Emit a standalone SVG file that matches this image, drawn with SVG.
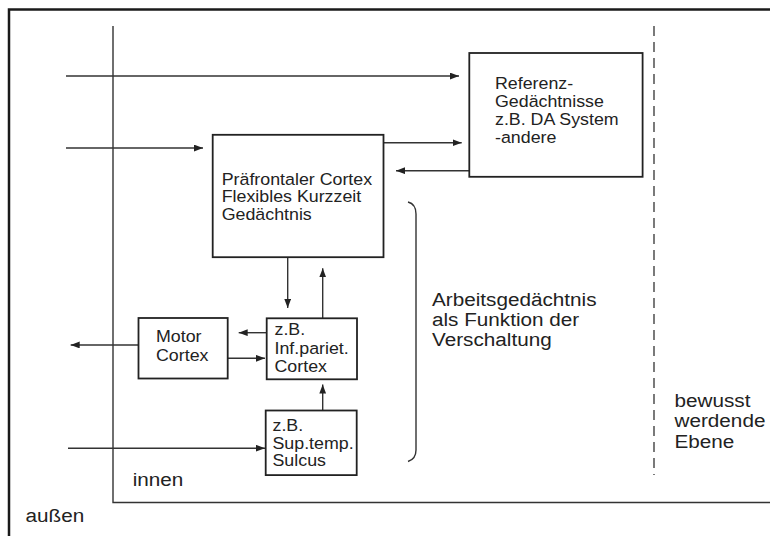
<svg xmlns="http://www.w3.org/2000/svg" width="770" height="536" viewBox="0 0 770 536">
<style>
  .box { fill: none; stroke: #222; stroke-width: 1.8; }
  .ln { fill: none; stroke: #333; stroke-width: 1.4; }
  .conn { fill: none; stroke: #333; stroke-width: 1.4; marker-end: url(#ah); }
  .t { font-family: "Liberation Sans", Arial, sans-serif; font-size: 16.5px; fill: #222; }
  .tl { font-family: "Liberation Sans", Arial, sans-serif; font-size: 19px; fill: #222; }
</style>
<defs>
  <marker id="ah" markerUnits="userSpaceOnUse" markerWidth="10" markerHeight="8" refX="9" refY="3.4" orient="auto">
    <path d="M0,0 L9,3.4 L0,6.8 z" fill="#222"/>
  </marker>
</defs>
<rect x="0" y="0" width="770" height="536" fill="#fff"/>
<path d="M9,536 L9,9.5 L770,9.5" fill="none" stroke="#1a1a1a" stroke-width="2.5"/>

<g id="boundaries">
  <path class="ln" d="M113,26 L113,502.5 L770,502.5"/>
  <line x1="654" y1="26" x2="654" y2="475" stroke="#333" stroke-width="1.3" stroke-dasharray="10,6"/>
  <path id="brace" class="ln" d="M408,202 Q416,204 416,214 L416,450 Q416,459 408,461.5"/>
</g>

<g id="connectors">
  <line class="conn" x1="66" y1="76" x2="459" y2="76"/>
  <line class="conn" x1="66" y1="148" x2="203" y2="148"/>
  <line class="conn" x1="383.5" y1="142.7" x2="461.7" y2="142.7"/>
  <line class="conn" x1="469.3" y1="170.7" x2="396" y2="170.7" stroke-width="2"/>
  <line class="conn" x1="287.7" y1="257.3" x2="287.7" y2="308"/>
  <line class="conn" x1="322.7" y1="318.3" x2="322.7" y2="268.3"/>
  <line class="conn" x1="266.7" y1="332.7" x2="238.7" y2="332.7"/>
  <line class="conn" x1="227.7" y1="358.3" x2="265" y2="358.3"/>
  <line class="conn" x1="138.5" y1="345" x2="70.7" y2="345"/>
  <line class="conn" x1="322.7" y1="410.5" x2="322.7" y2="384.5"/>
  <line class="conn" x1="68" y1="448.2" x2="265" y2="448.2"/>
</g>

<g id="referenz">
  <rect class="box" x="469.3" y="53" width="173.3" height="123.8"/>
  <text class="t" transform="translate(495,89.4) scale(1.08,1)"><tspan x="0">Referenz-</tspan><tspan x="0" dy="17.8">Gedächtnisse</tspan><tspan x="0" dy="17.8">z.B. DA System</tspan><tspan x="0" dy="17.8">-andere</tspan></text>
</g>

<g id="pfc">
  <rect class="box" x="212.7" y="134.8" width="170.8" height="122.4"/>
  <text class="t" transform="translate(221.7,184.8) scale(1.08,1)"><tspan x="0">Präfrontaler Cortex</tspan><tspan x="0" dy="17.6">Flexibles Kurzzeit</tspan><tspan x="0" dy="17.6">Gedächtnis</tspan></text>
</g>

<g id="motor">
  <rect class="box" x="138.5" y="318" width="89.2" height="60.5"/>
  <text class="t" transform="translate(156,342) scale(1.08,1)"><tspan x="0">Motor</tspan><tspan x="0" dy="18.6">Cortex</tspan></text>
</g>

<g id="ipc">
  <rect class="box" x="266.7" y="318.3" width="90.3" height="61"/>
  <text class="t" transform="translate(274.5,335.3) scale(1.08,1)"><tspan x="0">z.B.</tspan><tspan x="0" dy="18.3">Inf.pariet.</tspan><tspan x="0" dy="18.3">Cortex</tspan></text>
</g>

<g id="sts">
  <rect class="box" x="265.7" y="410.5" width="91" height="64.6"/>
  <text class="t" transform="translate(272.5,431) scale(1.08,1)"><tspan x="0">z.B.</tspan><tspan x="0" dy="17.7">Sup.temp.</tspan><tspan x="0" dy="17.7">Sulcus</tspan></text>
</g>

<g id="labels">
  <text class="tl" transform="translate(432,306) scale(1.09,1)"><tspan x="0">Arbeitsgedächtnis</tspan><tspan x="0" dy="20">als Funktion der</tspan><tspan x="0" dy="20">Verschaltung</tspan></text>
  <text class="tl" transform="translate(674.5,406.8) scale(1.09,1)"><tspan x="0">bewusst</tspan><tspan x="0" dy="20.5">werdende</tspan><tspan x="0" dy="20.5">Ebene</tspan></text>
  <text class="tl" transform="translate(132.7,486.2) scale(1.09,1)">innen</text>
  <text class="tl" transform="translate(25.5,522.4) scale(1.09,1)">außen</text>
</g>
</svg>
